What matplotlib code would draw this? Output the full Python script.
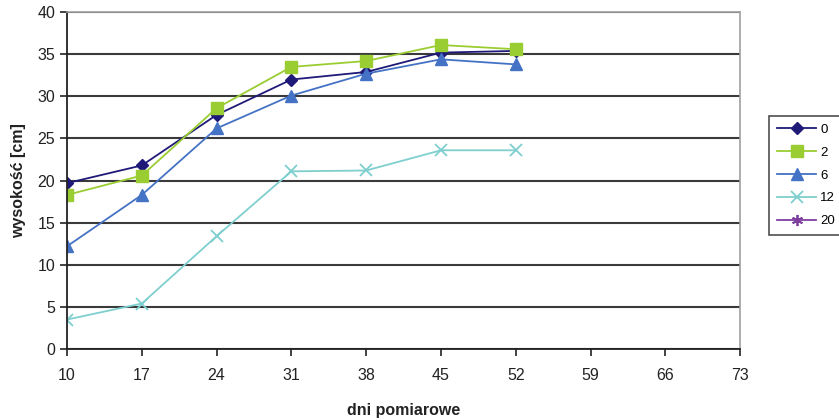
import matplotlib
matplotlib.use("Agg")
import matplotlib.pyplot as plt

plt.rcParams['font.family'] = ['Liberation Sans', 'DejaVu Sans']

days = [10, 17, 24, 31, 38, 45, 52]
x_ticks = [10, 17, 24, 31, 38, 45, 52, 59, 66, 73]
s0 = [19.7, 21.8, 27.8, 32.0, 32.9, 35.2, 35.4]
s2 = [18.3, 20.6, 28.6, 33.5, 34.2, 36.1, 35.6]
s6 = [12.2, 18.3, 26.2, 30.1, 32.7, 34.4, 33.8]
s12 = [3.5, 5.4, 13.4, 21.1, 21.2, 23.6, 23.6]
s20 = []
labels = ['0', '2', '6', '12', '20']

fig = plt.figure(figsize=(8.39, 4.2), dpi=100)
ax = fig.add_axes([0.0799, 0.169, 0.8022, 0.802])

ax.plot(days, s0, color='#1f1a78', marker='D', markersize=6, lw=1.3, label=labels[0])
ax.plot(days, s2, color='#9acd32', marker='s', markersize=8, lw=1.3, label=labels[1])
ax.plot(days, s6, color='#4472c4', marker='^', markersize=8, lw=1.3, label=labels[2])
ax.plot(days, s12, color='#7fcfcf', marker='x', markersize=8, mew=1.3, lw=1.3, label=labels[3])
ax.plot(s20, s20, color='#7f3f9f', marker=(6, 2, 0), markersize=8, mew=1.3, lw=1.3, label=labels[4])

ax.set_xlim(10, 73)
ax.set_ylim(0, 40)
ax.set_xticks(x_ticks)
ax.set_yticks(range(0, 41, 5))
ax.yaxis.grid(True, color='#3a3a3a', lw=1.5)
ax.set_axisbelow(True)
ax.tick_params(axis='both', labelsize=11.5, direction='out', length=5, width=1.2, color='#222222',
               labelcolor='#222222')
ax.tick_params(axis='x', pad=9)
for s in ['top', 'right']:
    ax.spines[s].set_color('#a0a0a0')
    ax.spines[s].set_linewidth(1.2)
for s in ['left', 'bottom']:
    ax.spines[s].set_color('#222222')
    ax.spines[s].set_linewidth(1.3)

ax.set_xlabel('dni pomiarowe', fontsize=11.5, fontweight='bold', labelpad=14, color='#222222')
ax.set_ylabel('wysokość [cm]', fontsize=11.5, fontweight='bold', labelpad=8, color='#222222')

leg = ax.legend(loc='upper left', bbox_to_anchor=(0.9165, 0.724), bbox_transform=fig.transFigure,
                frameon=True, fancybox=False, fontsize=9.5, handlelength=3.0, handletextpad=0.3,
                borderpad=0.6, labelspacing=0.8, borderaxespad=0)
leg.get_frame().set_edgecolor('#222222')
leg.get_frame().set_linewidth(1.2)

fig.savefig('out.png', dpi=100)
